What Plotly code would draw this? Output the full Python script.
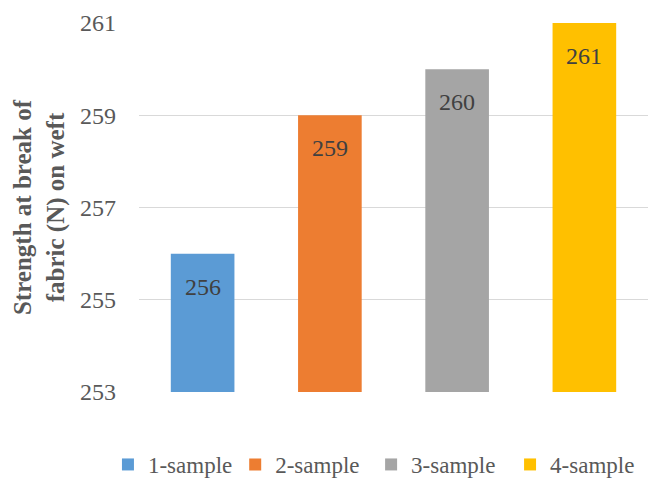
import plotly.graph_objects as go

categories = ["1-sample", "2-sample", "3-sample", "4-sample"]
values = [256, 259, 260, 261]
colors = ["#5B9BD5", "#ED7D31", "#A5A5A5", "#FFC000"]
y_ticks = [253, 255, 257, 259, 261]
legend_x = [-0.061, 0.189, 0.456, 0.729]

font_family = "Liberation Serif"

fig = go.Figure()
legend_names = ["legend", "legend2", "legend3", "legend4"]
for cat, val, col, lg in zip(categories, values, colors, legend_names):
    fig.add_trace(go.Bar(
        x=[cat], y=[val], name=cat, marker=dict(color=col, line=dict(width=0)),
        showlegend=True, legend=lg,
    ))

for cat, val in zip(categories, values):
    fig.add_annotation(x=cat, y=val, text=str(val), showarrow=False,
                       yshift=-33, font=dict(family=font_family, size=24, color="#404040"))

legend_common = dict(orientation="h", xanchor="left", y=-0.197, yanchor="middle",
                     font=dict(family=font_family, size=23, color="#595959"),
                     itemwidth=30, bgcolor="rgba(0,0,0,0)")

layout_legends = {}
for lg, lx in zip(legend_names, legend_x):
    layout_legends[lg] = dict(x=lx, **legend_common)

fig.update_layout(
    width=648, height=486,
    margin=dict(l=139, r=0, t=23, b=93),
    paper_bgcolor="white", plot_bgcolor="white",
    barmode="group", bargap=0.5,
    font=dict(family=font_family, size=24, color="#595959"),
    showlegend=True,
    xaxis=dict(showticklabels=False, showgrid=False, zeroline=False,
               showline=False, ticks="", categoryorder="array", categoryarray=categories),
    yaxis=dict(range=[253, 261], tickvals=y_ticks, ticktext=[str(t) for t in y_ticks],
               showgrid=True, gridcolor="#D9D9D9", gridwidth=1, zeroline=False,
               showline=False, ticks="", ticklabelstandoff=22,
               tickfont=dict(family=font_family, size=24, color="#595959"),
               title=dict(text="<b>Strength at break of<br>fabric (N) on weft</b>",
                          font=dict(family=font_family, size=25, color="#595959"),
                          standoff=8)),
    **layout_legends,
)

fig.write_html("out.html")
